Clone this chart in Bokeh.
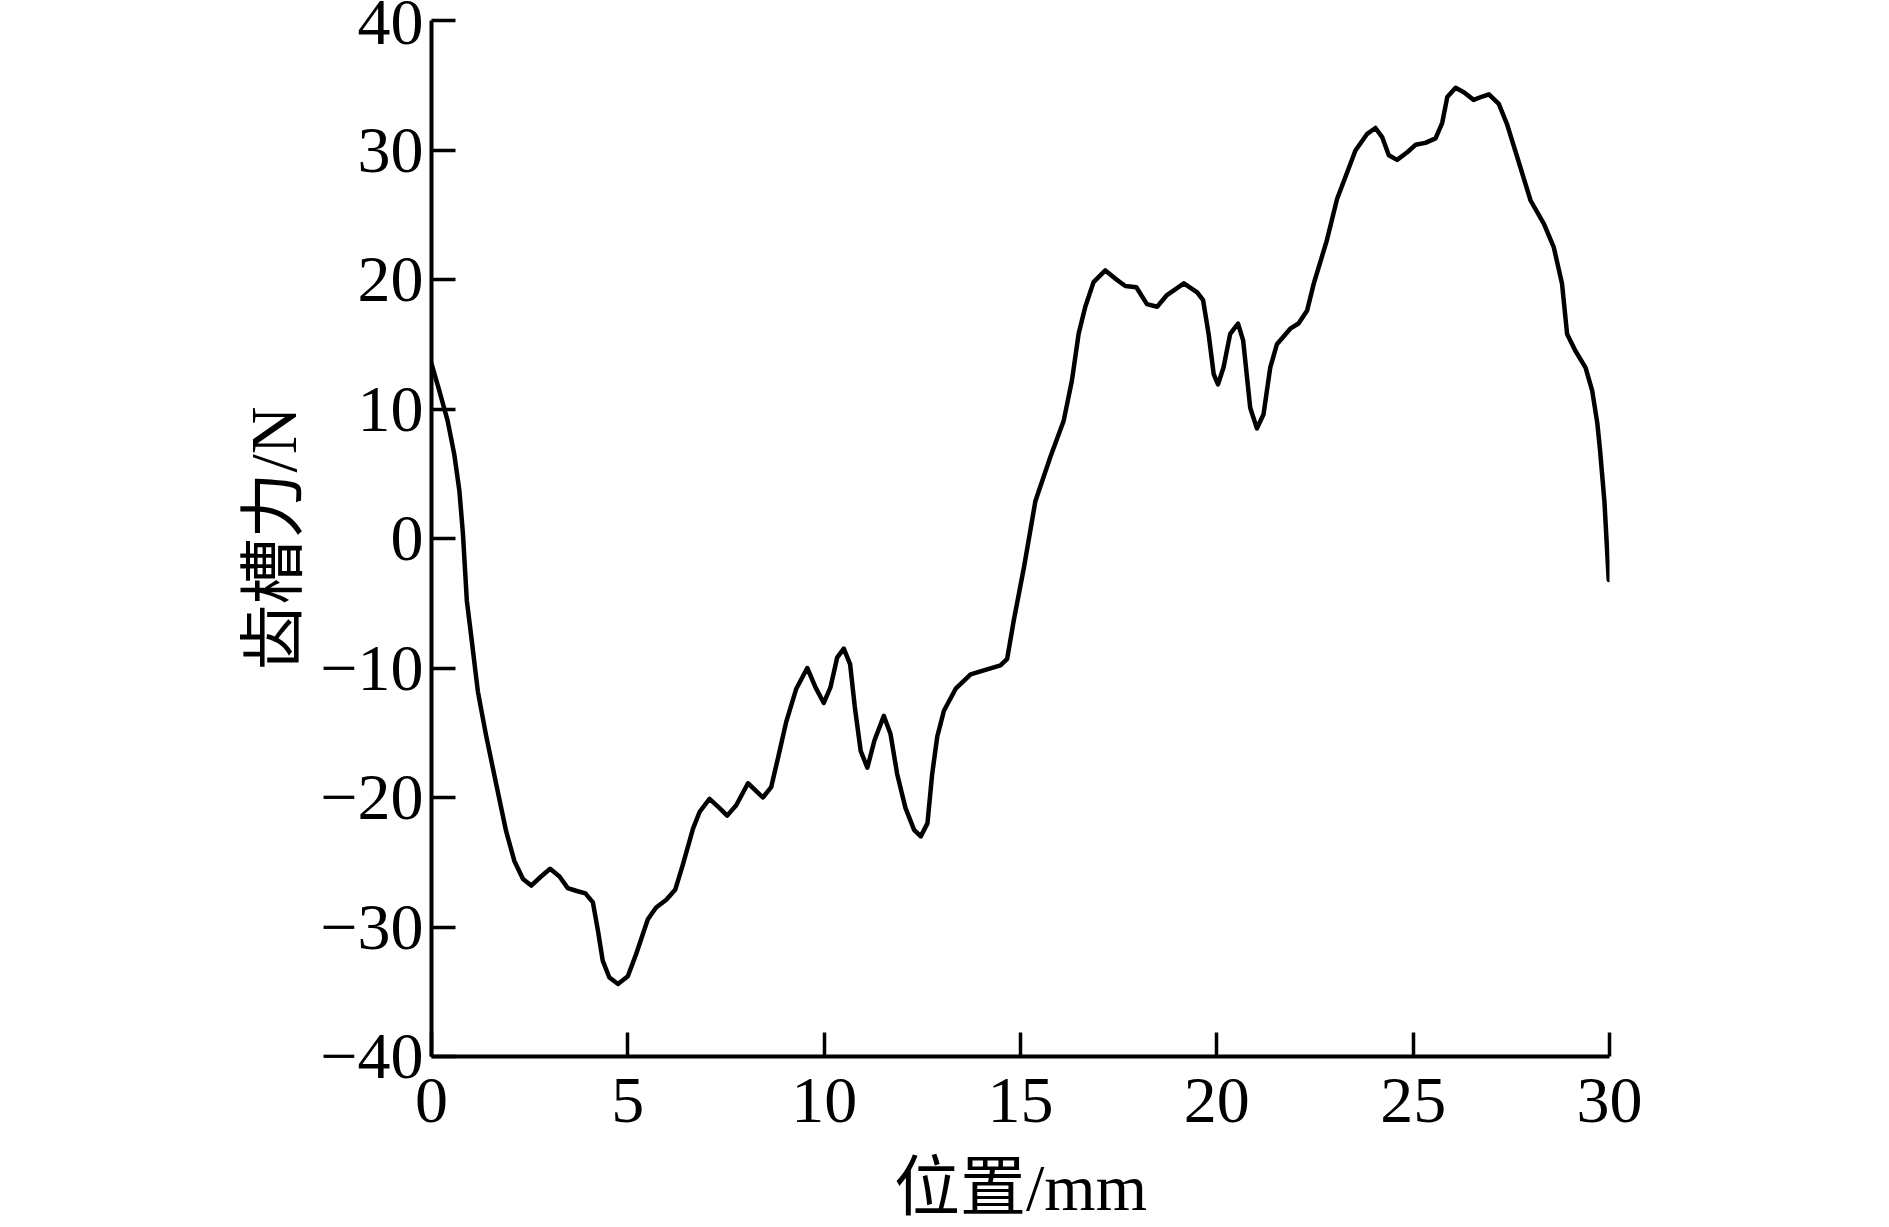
from bokeh.plotting import figure
from bokeh.models import Range1d, FixedTicker
from bokeh.embed import file_html
from bokeh.resources import INLINE

# Data
position_mm = [
    0, 0.2, 0.41, 0.58, 0.71, 0.8, 0.9, 1.01, 1.18, 1.39, 1.65, 1.9, 2.11, 2.33, 2.54,
    2.79, 3.02, 3.26, 3.47, 3.68, 3.92, 4.11, 4.24, 4.36, 4.53, 4.75, 5.0, 5.21, 5.51,
    5.72, 5.98, 6.21, 6.4, 6.66, 6.83, 7.08, 7.33, 7.53, 7.76, 8.06, 8.27, 8.44, 8.65,
    8.82, 9.03, 9.29, 9.57, 9.78, 9.99, 10.16, 10.33, 10.5, 10.66, 10.78, 10.93, 11.1,
    11.28, 11.52, 11.69, 11.86, 12.07, 12.29, 12.46, 12.63, 12.75, 12.88, 13.05, 13.35,
    13.73, 14.15, 14.49, 14.66, 14.83, 15.09, 15.38, 15.76, 16.1, 16.31, 16.48, 16.65,
    16.86, 17.16, 17.42, 17.67, 17.95, 18.22, 18.48, 18.73, 19.16, 19.5, 19.65, 19.79,
    19.92, 20.03, 20.17, 20.34, 20.54, 20.67, 20.85, 21.02, 21.19, 21.36, 21.53, 21.87,
    22.08, 22.3, 22.47, 22.8, 23.06, 23.53, 23.83, 24.04, 24.21, 24.38, 24.59, 24.85,
    25.06, 25.31, 25.57, 25.74, 25.87, 26.08, 26.29, 26.54, 26.76, 26.93, 27.18, 27.39,
    27.73, 27.99, 28.33, 28.58, 28.79, 28.92, 29.13, 29.39, 29.56, 29.69, 29.76, 29.87,
    29.98,
]
cogging_force_N = [
    13.5, 11.4, 9.1, 6.5, 3.7, 0.4, -4.8, -7.5, -11.8, -15.2, -19.0, -22.6, -24.9, -26.3,
    -26.8, -26.1, -25.5, -26.1, -27.0, -27.2, -27.4, -28.1, -30.3, -32.6, -33.9, -34.4,
    -33.8, -32.1, -29.4, -28.5, -27.9, -27.1, -25.2, -22.4, -21.1, -20.1, -20.8, -21.4,
    -20.6, -18.9, -19.5, -20.0, -19.2, -17.0, -14.2, -11.6, -10.0, -11.5, -12.7, -11.5,
    -9.2, -8.5, -9.7, -13.0, -16.4, -17.7, -15.6, -13.7, -15.1, -18.2, -20.8, -22.5,
    -23.0, -22.0, -18.2, -15.3, -13.3, -11.6, -10.5, -10.1, -9.8, -9.3, -6.3, -2.2, 2.9,
    6.3, 9.1, 12.2, 15.8, 17.9, 19.8, 20.7, 20.05, 19.5, 19.4, 18.1, 17.9, 18.8, 19.7,
    19.0, 18.4, 15.8, 12.7, 11.9, 13.2, 15.8, 16.6, 15.3, 10.1, 8.5, 9.6, 13.2, 15.0,
    16.2, 16.6, 17.6, 19.7, 23.0, 26.2, 29.96, 31.25, 31.7, 31.0, 29.6, 29.24, 29.83,
    30.4, 30.55, 30.9, 32.1, 34.1, 34.8, 34.46, 33.87, 34.13, 34.3, 33.56, 32.0, 28.67,
    26.1, 24.3, 22.5, 19.7, 15.8, 14.5, 13.2, 11.4, 8.9, 6.8, 2.9, -3.2,
]

x_ticks = [0, 5, 10, 15, 20, 25, 30]
y_ticks = [-40, -30, -20, -10, 0, 10, 20, 30, 40]
y_tick_labels = ["\u221240", "\u221230", "\u221220", "\u221210", "0", "10", "20", "30", "40"]
x_label = "位置/mm"
y_label = "齿槽力/N"

SERIF = "'Liberation Serif', 'Noto Sans CJK SC'"

p = figure(
    width=1889, height=1227,
    x_range=Range1d(0, 30), y_range=Range1d(-40, 40),
    output_backend="svg", toolbar_location=None,
    min_border_left=431, min_border_right=280,
    min_border_top=20, min_border_bottom=171,
)
p.outline_line_color = None
p.grid.visible = False
p.background_fill_color = "white"
p.border_fill_color = "white"

p.line(position_mm, cogging_force_N, line_color="black", line_width=4.5,
       line_join="round", line_cap="round")

for ax in (p.xaxis[0], p.yaxis[0]):
    ax.axis_line_width = 4
    ax.axis_line_color = "black"
    ax.major_tick_in = 24
    ax.major_tick_out = 0
    ax.major_tick_line_width = 3.5
    ax.major_tick_line_color = "black"
    ax.minor_tick_line_color = None
    ax.major_label_text_font = SERIF
    ax.major_label_text_font_size = "66px"
    ax.major_label_text_color = "black"
    ax.axis_label_text_font = SERIF
    ax.axis_label_text_font_size = "66px"
    ax.axis_label_text_font_style = "normal"
    ax.axis_label_text_color = "black"

p.xaxis[0].ticker = FixedTicker(ticks=x_ticks)
p.yaxis[0].ticker = FixedTicker(ticks=y_ticks)
p.yaxis[0].major_label_overrides = {t: s for t, s in zip(y_ticks, y_tick_labels)}
p.xaxis[0].major_label_standoff = 22
p.yaxis[0].major_label_standoff = 8
p.xaxis[0].axis_label = x_label
p.yaxis[0].axis_label = y_label
p.xaxis[0].axis_label_standoff = 26
p.yaxis[0].axis_label_standoff = 7

open("out.html", "w").write(file_html(p, INLINE))
